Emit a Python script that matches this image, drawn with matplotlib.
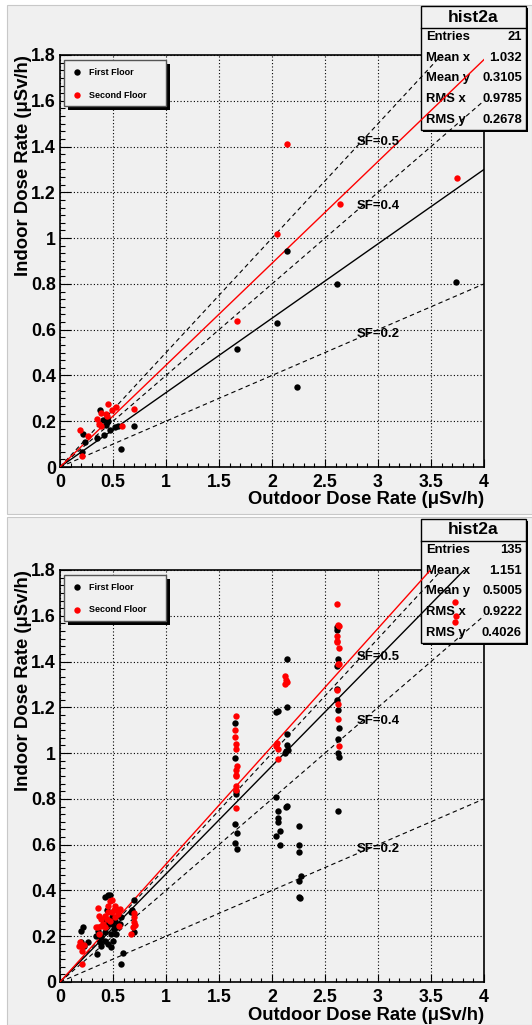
import numpy as np
import matplotlib
matplotlib.use('Agg')
import matplotlib.pyplot as plt
from matplotlib.patches import Rectangle
from matplotlib.lines import Line2D
from matplotlib.ticker import MultipleLocator, AutoMinorLocator

plt.rcParams['font.family'] = ['Liberation Sans', 'DejaVu Sans']
plt.rcParams['font.weight'] = 'bold'

W, H = 532, 1025

# ---- data: top pad (first survey)
top_black_x = [2.14, 2.61, 3.74, 2.05, 1.67, 2.24,
               0.38, 0.41, 0.43, 0.45, 0.47, 0.52, 0.55, 0.70, 0.415,
               0.35, 0.24, 0.22, 0.21, 0.58, 0.44]
top_black_y = [0.945, 0.80, 0.81, 0.63, 0.514, 0.35,
               0.25, 0.206, 0.184, 0.20, 0.16, 0.174, 0.177, 0.18, 0.14,
               0.126, 0.11, 0.143, 0.065, 0.08, 0.215]
top_red_x = [2.14, 2.05, 2.64, 3.745, 1.67,
             0.19, 0.26, 0.21, 0.35, 0.37, 0.39, 0.385, 0.435, 0.455,
             0.49, 0.53, 0.585, 0.70, 0.44]
top_red_y = [1.41, 1.02, 1.147, 1.263, 0.64,
             0.16, 0.134, 0.047, 0.21, 0.19, 0.235, 0.18, 0.23, 0.274,
             0.25, 0.264, 0.18, 0.253, 0.225]
top_fit_black = 0.325
top_fit_red = 0.445
top_stats = ['21', '1.032', '0.3105', '0.9785', '0.2678']

# ---- data: bottom pad (all points)
bot_black_x = [1.65, 1.65, 1.66, 1.66, 1.65, 1.67, 1.65, 1.67,
               2.14, 2.04, 2.06, 2.14, 2.14, 2.14, 2.13, 2.15, 2.12,
               2.04, 2.06, 2.06, 2.06, 2.08, 2.04, 2.08, 2.13, 2.14,
               2.25, 2.25, 2.25, 2.27, 2.25, 2.25, 2.26,
               2.61, 2.61, 2.62, 2.61, 2.61, 2.61, 2.62, 2.63, 2.62, 2.62, 2.63, 2.62,
               0.20, 0.22, 0.20, 0.26, 0.23, 0.35, 0.38, 0.39, 0.42, 0.41,
               0.42, 0.45, 0.47, 0.44, 0.49, 0.49, 0.45, 0.52, 0.53, 0.50,
               0.48, 0.45, 0.39, 0.57, 0.58, 0.59, 0.58, 0.67, 0.68, 0.70,
               0.70, 0.34, 0.36, 0.51, 0.54, 0.48, 0.42]
bot_black_y = [0.977, 1.13, 0.835, 0.82, 0.69, 0.653, 0.606, 0.583,
               1.41, 1.18, 1.185, 1.20, 1.085, 1.035, 1.01, 1.015, 1.0,
               0.81, 0.745, 0.715, 0.70, 0.66, 0.64, 0.60, 0.765, 0.77,
               0.68, 0.60, 0.57, 0.465, 0.44, 0.37, 0.365,
               1.55, 1.54, 1.41, 1.38, 1.28, 1.23, 1.19, 1.11, 1.06, 1.0, 0.985, 0.745,
               0.221, 0.242, 0.173, 0.173, 0.158, 0.122, 0.173, 0.158, 0.217, 0.271,
               0.37, 0.378, 0.382, 0.315, 0.283, 0.253, 0.253, 0.268, 0.21, 0.18,
               0.154, 0.166, 0.198, 0.253, 0.283, 0.125, 0.078, 0.305, 0.315, 0.36,
               0.217, 0.202, 0.224, 0.231, 0.239, 0.21, 0.18]
bot_red_x = [1.66, 1.65, 1.65, 1.66, 1.66, 1.67, 1.66, 1.66, 1.66, 1.66, 1.66, 1.66,
             2.12, 2.13, 2.14, 2.12, 2.05, 2.04, 2.06, 2.06,
             2.61, 2.62, 2.63, 2.61, 2.61, 2.61, 2.63, 2.62, 2.63, 2.61, 2.62, 2.62, 2.63,
             3.73, 3.74, 3.73,
             0.18, 0.21, 0.23, 0.21, 0.21, 0.19, 0.355, 0.37, 0.36, 0.39,
             0.37, 0.42, 0.44, 0.45, 0.47, 0.49, 0.45, 0.49, 0.51, 0.53,
             0.55, 0.57, 0.52, 0.47, 0.42, 0.41, 0.56, 0.52, 0.67, 0.69,
             0.70, 0.70, 0.70, 0.71, 0.55, 0.39, 0.34]
bot_red_y = [1.16, 1.10, 1.07, 1.04, 1.02, 0.945, 0.925, 0.905, 0.90, 0.855, 0.84, 0.76,
             1.335, 1.32, 1.31, 1.30, 1.045, 1.03, 1.02, 0.975,
             1.65, 1.56, 1.555, 1.51, 1.49, 1.485, 1.46, 1.39, 1.39, 1.275, 1.215, 1.15, 1.03,
             1.66, 1.60, 1.575,
             0.158, 0.158, 0.161, 0.136, 0.08, 0.173, 0.324, 0.29, 0.239, 0.246,
             0.21, 0.29, 0.275, 0.334, 0.356, 0.359, 0.305, 0.305, 0.315, 0.319,
             0.312, 0.319, 0.283, 0.268, 0.239, 0.253, 0.246, 0.33, 0.21, 0.239,
             0.26, 0.283, 0.30, 0.25, 0.298, 0.275, 0.239]
bot_fit_black = 0.472
bot_fit_red = 0.515
bot_stats = ['135', '1.151', '0.5005', '0.9222', '0.4026']

sf_values = [0.5, 0.4, 0.2]
sf_label_y = [1.42, 1.14, 0.58]
stat_names = ['Entries', 'Mean x', 'Mean y', 'RMS x', 'RMS y']

PAD = '#f0f0f0'


def fx(px):
    return px / W


def fy(py):
    return 1 - py / H


fig = plt.figure(figsize=(W / 100, H / 100), dpi=100)
fig.patch.set_facecolor('white')

# pad backgrounds
for (y0, y1) in [(5, 514), (517, 1025)]:
    fig.patches.append(Rectangle((fx(7), fy(y1)), fx(W - 7), (y1 - y0) / H,
                                 transform=fig.transFigure, facecolor=PAD,
                                 edgecolor='#c8c8c8', lw=0.8, zorder=-5))


def draw_panel(top_px, bx, by, rx, ry, k_black, k_red, stats, box_top):
    ax_left, ax_right = 60, 484
    ax_bot = top_px + 412
    ax = fig.add_axes([fx(ax_left), fy(ax_bot), (ax_right - ax_left) / W, 412 / H])
    ax.set_zorder(2)
    ax.set_facecolor('none')
    ax.set_xlim(0, 4)
    ax.set_ylim(0, 1.8)
    ax.xaxis.set_major_locator(MultipleLocator(0.5))
    ax.xaxis.set_minor_locator(MultipleLocator(0.1))
    ax.yaxis.set_major_locator(MultipleLocator(0.2))
    ax.yaxis.set_minor_locator(AutoMinorLocator(6))
    ax.xaxis.set_major_formatter(plt.FuncFormatter(lambda v, p: '%g' % v))
    ax.yaxis.set_major_formatter(plt.FuncFormatter(lambda v, p: '%g' % v))
    ax.tick_params(which='both', direction='in', top=False, right=False,
                   labelsize=12.8, width=0.8)
    ax.tick_params(axis='x', which='major', length=6, pad=5)
    ax.tick_params(axis='x', which='minor', length=3)
    ax.tick_params(axis='y', which='major', length=8, pad=3)
    ax.tick_params(axis='y', which='minor', length=3.5)
    for lab in ax.get_xticklabels() + ax.get_yticklabels():
        lab.set_fontweight('bold')
    ax.grid(True, which='major', ls=(0, (1, 2)), color='black', lw=0.8)
    ax.set_axisbelow(True)
    for s in ax.spines.values():
        s.set_linewidth(1.2)
        s.set_zorder(0.9)

    # stats box (sits over grid, under graphs)
    bx0, bx1 = 421, 526
    bt = box_top
    bb = bt + 124
    ax.add_patch(Rectangle((fx(bx0 + 2), fy(bb + 2)), (bx1 - bx0) / W, (bb - bt) / H,
                           transform=fig.transFigure, facecolor='black',
                           edgecolor='none', clip_on=False, zorder=1))
    ax.add_patch(Rectangle((fx(bx0), fy(bb)), (bx1 - bx0) / W, (bb - bt) / H,
                           transform=fig.transFigure, facecolor=PAD,
                           edgecolor='black', lw=1.0, clip_on=False, zorder=1.1))
    ax.add_line(Line2D([fx(bx0), fx(bx1)], [fy(bt + 22), fy(bt + 22)],
                       transform=fig.transFigure, color='black', lw=1.0,
                       clip_on=False, zorder=1.2))
    ax.text(fx((bx0 + bx1) / 2), fy(bt + 11), 'hist2a', transform=fig.transFigure,
            ha='center', va='center', fontsize=12.6, fontweight='bold', zorder=1.3)
    for i, (nm, val) in enumerate(zip(stat_names, stats)):
        yy = fy(bt + 31 + i * 20.7)
        ax.text(fx(bx0 + 5), yy, nm, transform=fig.transFigure, ha='left',
                va='center', fontsize=9.4, fontweight='bold', zorder=1.3)
        ax.text(fx(bx1 - 4), yy, val, transform=fig.transFigure, ha='right',
                va='center', fontsize=9.4, fontweight='bold', zorder=1.3)

    # reference lines
    xs = np.array(ax.get_xlim())
    for k in sf_values:
        ax.plot(xs, k * xs, color='black', lw=0.8, ls=(0, (4, 3)), zorder=2)
    ax.plot(xs, k_black * xs, color='black', lw=1.0, zorder=2)
    ax.plot(xs, k_red * xs, color='red', lw=1.0, zorder=2)
    for k, ly in zip(sf_values, sf_label_y):
        ax.text(2.8, ly, 'SF=%g' % k, fontsize=9.5, fontweight='bold',
                ha='left', va='center', zorder=2.1)

    ax.plot(bx, by, 'o', color='black', ms=4.6, mew=0, zorder=3)
    ax.plot(rx, ry, 'o', color='red', ms=4.6, mew=0, zorder=3.1)

    # axis titles
    ax.text(1.0, -33 / 412, 'Outdoor Dose Rate (\u03bcSv/h)', transform=ax.transAxes,
            ha='right', va='center', fontsize=13.3, fontweight='bold')
    ax.text(-36 / 424, 1.0, 'Indoor Dose Rate (\u03bcSv/h)', transform=ax.transAxes,
            ha='center', va='top', rotation=90, fontsize=13.3, fontweight='bold')

    # legend box with shadow
    lx0, lx1 = 64, 166
    lt = top_px + 5
    lb = top_px + 51
    ax.add_patch(Rectangle((fx(lx0 + 4), fy(lb + 4)), (lx1 - lx0) / W, (lb - lt) / H,
                           transform=fig.transFigure, facecolor='black',
                           edgecolor='none', clip_on=False, zorder=5))
    ax.add_patch(Rectangle((fx(lx0), fy(lb)), (lx1 - lx0) / W, (lb - lt) / H,
                           transform=fig.transFigure, facecolor=PAD,
                           edgecolor='#555555', lw=1.0, clip_on=False, zorder=5.1))
    for j, (lab, col) in enumerate([('First Floor', 'black'), ('Second Floor', 'red')]):
        yy = fy(lt + 12 + j * 23)
        ax.add_line(Line2D([fx(77)], [yy], transform=fig.transFigure, marker='o',
                           color=col, ms=4.6, mew=0, ls='none', clip_on=False,
                           zorder=5.2))
        ax.text(fx(89), yy, lab, transform=fig.transFigure, ha='left', va='center',
                fontsize=6.5, fontweight='bold', zorder=5.2)
    return ax


draw_panel(55, top_black_x, top_black_y, top_red_x, top_red_y,
           top_fit_black, top_fit_red, top_stats, 6)
draw_panel(570, bot_black_x, bot_black_y, bot_red_x, bot_red_y,
           bot_fit_black, bot_fit_red, bot_stats, 519)

fig.savefig('out.png', dpi=100, facecolor=fig.get_facecolor())
